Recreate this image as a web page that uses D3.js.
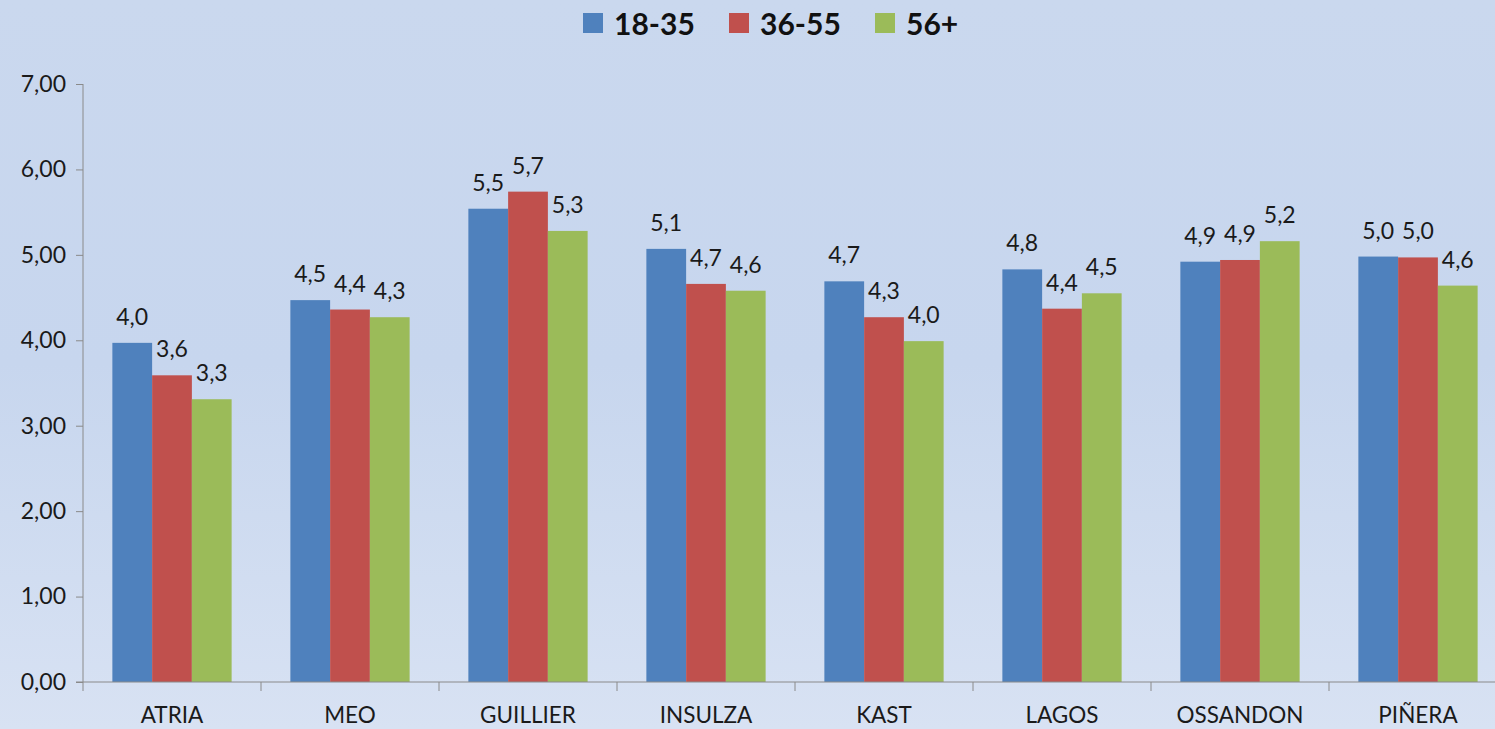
<!DOCTYPE html>
<html>
<head>
<meta charset="utf-8">
<script src="https://d3js.org/d3.v7.min.js"></script>
<style>
body { margin: 0; overflow: hidden; }
svg { display: block; font-family: "Lato", "Open Sans", sans-serif; }
</style>
</head>
<body>
<svg id="chart" width="1495" height="729"></svg>
<script>
// data
var candidates = ["ATRIA", "MEO", "GUILLIER", "INSULZA", "KAST", "LAGOS", "OSSANDON", "PIÑERA"];
var groups = ["18-35", "36-55", "56+"];
var young = [3.97, 4.47, 5.54, 5.07, 4.69, 4.83, 4.92, 4.98];
var middle = [3.59, 4.36, 5.74, 4.66, 4.27, 4.37, 4.94, 4.97];
var older = [3.31, 4.27, 5.28, 4.58, 3.99, 4.55, 5.16, 4.64];
var yTicks = [0, 1, 2, 3, 4, 5, 6, 7];
var colors = ["#4f81bd", "#c0504d", "#9bbb59"];

var series = [young, middle, older];
var rows = [];
candidates.forEach(function (c, i) {
  groups.forEach(function (g, j) {
    rows.push({ cand: c, group: g, value: series[j][i] });
  });
});

var svg = d3.select("#chart");
var W = 1495, H = 729;

var defs = svg.append("defs");
var grad = defs.append("linearGradient").attr("id", "bg")
  .attr("x1", 0).attr("y1", 0).attr("x2", 0).attr("y2", 1);
grad.append("stop").attr("offset", "0%").attr("stop-color", "#cad8ee");
grad.append("stop").attr("offset", "50%").attr("stop-color", "#c7d6ee");
grad.append("stop").attr("offset", "100%").attr("stop-color", "#d8e2f3");
svg.append("rect").attr("width", W).attr("height", H).attr("fill", "url(#bg)");

var plotLeft = 83, plotBottom = 682, plotTop = 84;
var x = d3.scaleBand().domain(candidates).range([plotLeft, plotLeft + 178 * candidates.length])
  .paddingInner(0.33).paddingOuter(0.165);
var xs = d3.scaleBand().domain(groups).range([0, x.bandwidth()]);
var y = d3.scaleLinear().domain([0, 7]).range([plotBottom, plotTop]);

// y axis
var yAxis = svg.append("g").attr("transform", "translate(" + plotLeft + ",0)")
  .call(d3.axisLeft(y).tickValues(yTicks).tickSize(7).tickPadding(10)
    .tickFormat(function (d) { return d3.format(".2f")(d).replace(".", ","); }));
yAxis.select(".domain").attr("stroke", "#8a8a8a").attr("d", "M0," + plotTop + "V" + plotBottom);
yAxis.selectAll(".tick line").attr("stroke", "#8a8a8a");
yAxis.selectAll(".tick text").attr("font-size", 23).attr("fill", "#1a1a1a")
  .attr("font-family", "Lato, sans-serif");

// bars
svg.append("g").selectAll("rect").data(rows).join("rect")
  .attr("x", function (d) { return x(d.cand) + xs(d.group); })
  .attr("y", function (d) { return y(d.value); })
  .attr("width", xs.bandwidth())
  .attr("height", function (d) { return plotBottom - y(d.value); })
  .attr("fill", function (d) { return colors[groups.indexOf(d.group)]; });

// value labels
svg.append("g").selectAll("text").data(rows).join("text")
  .attr("x", function (d) { return x(d.cand) + xs(d.group) + xs.bandwidth() / 2; })
  .attr("y", function (d) { return y(d.value) - 18; })
  .attr("text-anchor", "middle")
  .attr("font-size", 23)
  .attr("fill", "#1a1a1a")
  .text(function (d) { return d3.format(".1f")(d.value).replace(".", ","); });

// x axis
var xOuter = d3.scaleLinear().domain([0, candidates.length]).range([plotLeft, plotLeft + 178 * candidates.length]);
var xAxis = svg.append("g").attr("transform", "translate(0," + plotBottom + ")");
xAxis.append("line").attr("x1", plotLeft - 7).attr("x2", W).attr("stroke", "#8a8a8a");
xAxis.selectAll(".xt").data(d3.range(candidates.length + 1)).join("line")
  .attr("class", "xt")
  .attr("x1", function (d) { return xOuter(d); }).attr("x2", function (d) { return xOuter(d); })
  .attr("y1", 0).attr("y2", 9).attr("stroke", "#8a8a8a");
xAxis.selectAll("text").data(candidates).join("text")
  .attr("x", function (d) { return x(d) + x.bandwidth() / 2; })
  .attr("y", 41)
  .attr("text-anchor", "middle")
  .attr("font-size", 22.5)
  .attr("fill", "#1a1a1a")
  .text(function (d) { return d; });

// legend
var legendX = [583, 729, 875];
var leg = svg.append("g").selectAll("g").data(groups).join("g")
  .attr("transform", function (d, i) { return "translate(" + legendX[i] + ",13)"; });
leg.append("rect").attr("width", 20).attr("height", 20)
  .attr("fill", function (d, i) { return colors[i]; });
leg.append("text").attr("x", 31).attr("y", 22)
  .attr("font-size", 30).attr("font-weight", "bold").attr("fill", "#111")
  .text(function (d) { return d; });
</script>
</body>
</html>
